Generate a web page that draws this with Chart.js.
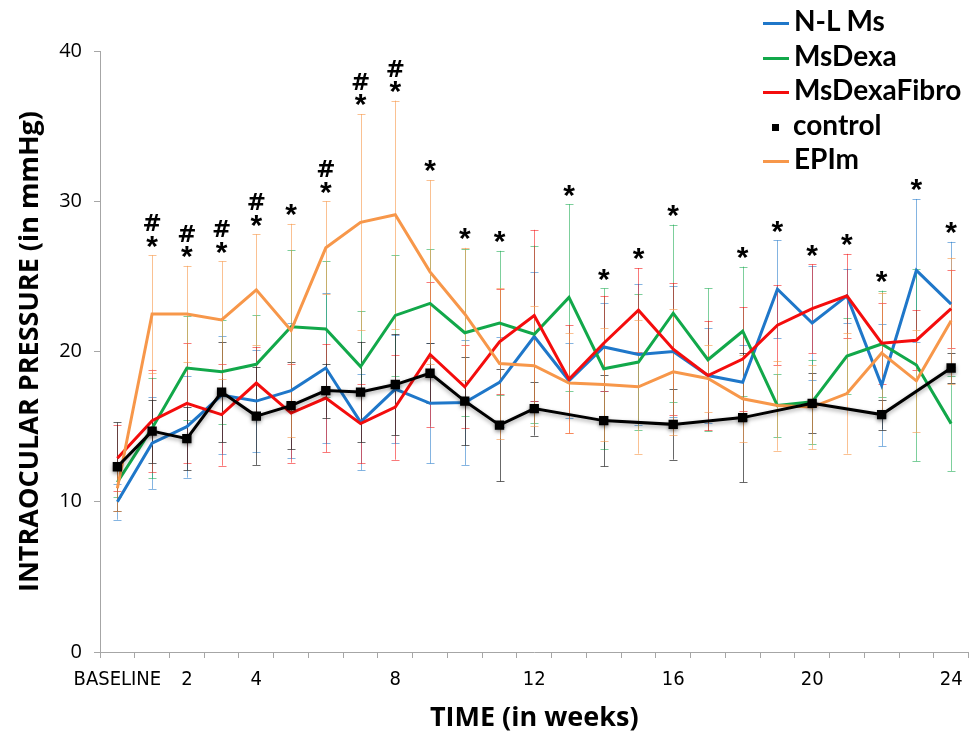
<html lang="en">
<head>
<meta charset="utf-8"/>
<style>
  body { margin: 0; background: #fff; }
  #wrap { position: relative; width: 976px; height: 737px; }
  #legend { position: absolute; left: 763px; top: 3px; font-family: Lato, "Open Sans", sans-serif; font-weight: bold; font-size: 28px; color: #000; }
  #legend div { height: 34.5px; line-height: 34.5px; white-space: nowrap; }
  #legend span.sw { display: inline-block; width: 26px; height: 3px; vertical-align: middle; margin-right: 5px; }
  #legend span.sq { display: inline-block; width: 7px; height: 7px; background: #000; vertical-align: middle; margin: 0 14px 0 9px; }
</style>
</head>
<body>
<div id="wrap">
  <canvas id="myChart"></canvas>
  <div id="legend">
    <div><span class="sw" style="background:#1f77c9"></span>N-L Ms</div>
    <div><span class="sw" style="background:#12a84a"></span>MsDexa</div>
    <div><span class="sw" style="background:#f40d0d"></span>MsDexaFibro</div>
    <div><span class="sq"></span>control</div>
    <div><span class="sw" style="background:#f7974a"></span>EPIm</div>
  </div>
</div>

<script src="https://cdn.jsdelivr.net/npm/chart.js"></script>
<script>
  // weeks: baseline + 1..24
  var weeks = ["BASELINE", "1", "2", "3", "4", "5", "6", "7", "8", "9", "10", "11", "12",
               "13", "14", "15", "16", "17", "18", "19", "20", "21", "22", "23", "24"];
  var shownLabels = ["BASELINE", "2", "4", "8", "12", "16", "20", "24"];

  var nlMs = [10.0, 13.9, 15.0, 17.1, 16.7, 17.4, 18.9, 15.3, 17.5, 16.55, 16.6, 17.95, 21.0,
              18.05, 20.3, 19.8, 20.0, 18.4, 17.95, 24.15, 21.9, 23.7, 17.75, 25.4, 23.15];
  var nlMsErr = [1.2, 3.05, 3.4, 3.9, 3.4, 4.5, 5.0, 3.2, 3.6, 4.0, 4.15, 3.0, 4.3,
                 2.5, 2.95, 4.7, 4.35, 3.15, 2.5, 3.25, 3.8, 1.8, 4.05, 4.75, 4.15];

  var msDexa = [11.3, 14.9, 18.9, 18.65, 19.15, 21.65, 21.5, 19.0, 22.4, 23.2, 21.25, 21.9, 21.15,
                23.6, 18.85, 19.3, 22.55, 19.45, 21.35, 16.4, 16.65, 19.7, 20.5, 19.1, 15.2];
  var msDexaErr = [1.0, 3.35, 3.45, 3.45, 3.25, 5.1, 4.5, 3.7, 4.0, 3.6, 5.55, 4.8, 5.9,
                   6.2, 5.35, 4.5, 5.9, 4.75, 4.3, 2.1, 2.8, 2.5, 3.55, 6.4, 3.15];

  var msDexaFibro = [12.9, 15.4, 16.55, 15.8, 17.9, 15.9, 16.9, 15.2, 16.3, 19.8, 17.65, 20.65, 22.4,
                     18.15, 20.55, 22.75, 20.15, 18.4, 19.5, 21.75, 22.85, 23.7, 20.55, 20.75, 22.85];
  var msDexaFibroErr = [2.2, 3.4, 4.0, 3.4, 2.4, 3.3, 3.6, 2.65, 3.5, 4.8, 2.75, 3.5, 5.7,
                        3.6, 3.15, 2.8, 4.4, 3.65, 3.45, 2.65, 2.95, 2.8, 2.7, 2.0, 2.6];

  var control = [12.33, 14.7, 14.2, 17.3, 15.7, 16.4, 17.4, 17.3, 17.8, 18.55, 16.7, 15.1, 16.2,
                 null, 15.4, null, 15.15, null, 15.6, null, 16.55, null, 15.8, null, 18.9];
  var controlErr = [2.95, 2.1, 2.1, 3.35, 3.25, 2.9, 1.8, 3.35, 3.35, 2.0, 2.95, 3.75, 1.8,
                    null, 3.05, null, 2.35, null, 4.3, null, 2.0, null, 1.0, null, 1.0];

  var epim = [10.9, 22.5, 22.5, 22.1, 24.1, 21.4, 26.9, 28.6, 29.1, 25.3, 22.5, 19.2, 19.05,
              17.9, 17.8, 17.65, 18.65, 18.2, 16.85, 16.4, 16.3, 17.2, 19.9, 18.05, 22.05];
  var epimErr = [1.5, 3.9, 3.2, 3.9, 3.7, 7.1, 3.1, 7.2, 7.6, 6.1, 4.4, 5.0, 4.0,
                 3.3, 3.75, 4.45, 4.2, 2.25, 2.9, 3.0, 2.8, 4.0, 4.0, 3.4, 4.2];

  // significance marks above each week (top char first)
  var signif = ["", "#*", "#*", "#*", "#*", "*", "#*", "#*", "#*", "*", "*", "*", "",
                "*", "*", "*", "*", "", "*", "*", "*", "*", "*", "*", "*"];

  var errorBars = {
    id: "errorBars",
    beforeDatasetsDraw: function (chart) {
      var ctx = chart.ctx, y = chart.scales.y;
      chart.data.datasets.forEach(function (ds, i) {
        var meta = chart.getDatasetMeta(i);
        ctx.save();
        ctx.strokeStyle = ds.errColor;
        ctx.lineWidth = 1;
        meta.data.forEach(function (pt, j) {
          var v = ds.data[j], e = ds.err[j];
          if (v == null || e == null) return;
          var x = Math.round(pt.x) + 0.5;
          var t = y.getPixelForValue(v + e), b = y.getPixelForValue(v - e);
          ctx.beginPath();
          ctx.moveTo(x, t); ctx.lineTo(x, b);
          ctx.moveTo(x - 4, Math.round(t) + 0.5); ctx.lineTo(x + 4, Math.round(t) + 0.5);
          ctx.moveTo(x - 4, Math.round(b) + 0.5); ctx.lineTo(x + 4, Math.round(b) + 0.5);
          ctx.stroke();
        });
        ctx.restore();
      });
    }
  };

  var shadowLine = {
    id: "shadowLine",
    beforeDatasetDraw: function (chart, args) {
      var ctx = chart.ctx;
      ctx.save();
      if (chart.data.datasets[args.index].shadow) {
        ctx.shadowColor = "rgba(0,0,0,0.35)";
        ctx.shadowBlur = 4;
        ctx.shadowOffsetY = 2;
      }
    },
    afterDatasetDraw: function (chart) {
      chart.ctx.restore();
    }
  };

  var signifMarks = {
    id: "signifMarks",
    afterDatasetsDraw: function (chart) {
      var ctx = chart.ctx, y = chart.scales.y, x = chart.scales.x;
      ctx.save();
      ctx.fillStyle = "#000";
      ctx.textAlign = "center";
      ctx.textBaseline = "middle";
      signif.forEach(function (s, j) {
        if (!s) return;
        var top = Infinity;
        chart.data.datasets.forEach(function (ds) {
          if (ds.data[j] == null) return;
          top = Math.min(top, y.getPixelForValue(ds.data[j] + ds.err[j]));
        });
        var px = x.getPixelForValue(j);
        var chars = s.split("");
        for (var k = chars.length - 1, n = 0; k >= 0; k--, n++) {
          var c = chars[k];
          if (c === "*") {
            ctx.font = "bold 30px 'Liberation Sans'";
            ctx.fillText(c, px, top - 8 - n * 19);
          } else {
            ctx.font = "bold 23px 'DejaVu Sans'";
            ctx.fillText(c, px, top - 11 - n * 19);
          }
        }
      });
      ctx.restore();
    }
  };

  function line(data, err, color, errColor, order) {
    return {
      data: data, err: err, errColor: errColor,
      borderColor: color, backgroundColor: color,
      borderWidth: 3, pointRadius: 0, tension: 0, order: order
    };
  }

  var datasets = [
    line(nlMs, nlMsErr, "#1f77c9", "rgba(31,119,201,0.55)", 4),
    line(msDexa, msDexaErr, "#12a84a", "rgba(18,168,74,0.55)", 3),
    line(msDexaFibro, msDexaFibroErr, "#f40d0d", "rgba(244,13,13,0.55)", 2),
    {
      data: control, err: controlErr, errColor: "rgba(40,40,40,0.7)",
      borderColor: "#000", backgroundColor: "#000", borderWidth: 3,
      pointStyle: "rect", pointRadius: 4.5, pointHoverRadius: 4.5,
      spanGaps: true, tension: 0, order: 0, shadow: true
    },
    line(epim, epimErr, "#f7974a", "rgba(247,151,74,0.6)", 1)
  ];

  var ctx = document.getElementById("myChart");
  var myChart = new Chart(ctx, {
    type: "line",
    data: { labels: weeks, datasets: datasets },
    plugins: [errorBars, shadowLine, signifMarks],
    options: {
      responsive: true,
      maintainAspectRatio: false,
      animation: false,
      layout: { padding: { top: 51, right: 1, left: 0, bottom: 0 } },
      plugins: { legend: { display: false }, tooltip: { enabled: false } },
      scales: {
        x: {
          type: "category",
          offset: true,
          grid: { offset: true, drawOnChartArea: false, tickLength: 6, color: "#a6a6a6" },
          border: { color: "#a6a6a6", width: 1 },
          ticks: {
            autoSkip: false, maxRotation: 0, padding: 10, color: "#000",
            font: { family: "'Liberation Sans Narrow', 'DejaVu Sans Condensed', sans-serif", size: 20 },
            callback: function (v) {
              var l = this.getLabelForValue(v);
              return shownLabels.indexOf(l) >= 0 ? l : "";
            }
          },
          title: {
            display: true, text: "TIME (in weeks)", color: "#000",
            font: { family: "'Liberation Sans Narrow', 'Open Sans', sans-serif", size: 27, weight: "bold" },
            padding: { top: 0, bottom: 2 }
          },
          afterFit: function (s) { s.height = 85; }
        },
        y: {
          min: 0, max: 40,
          ticks: { stepSize: 10, padding: 12, color: "#000",
                   font: { family: "'Open Sans', sans-serif", size: 20 } },
          grid: { drawOnChartArea: false, tickLength: 6, color: "#a6a6a6" },
          border: { color: "#a6a6a6", width: 1 },
          title: {
            display: true, text: "INTRAOCULAR PRESSURE (in mmHg)", color: "#000",
            font: { family: "'Open Sans', sans-serif", size: 27, weight: "bold" },
            padding: { top: 14, bottom: 0 }
          },
          afterFit: function (s) { s.width = 100; }
        }
      }
    }
  });
</script>
</body>
</html>
